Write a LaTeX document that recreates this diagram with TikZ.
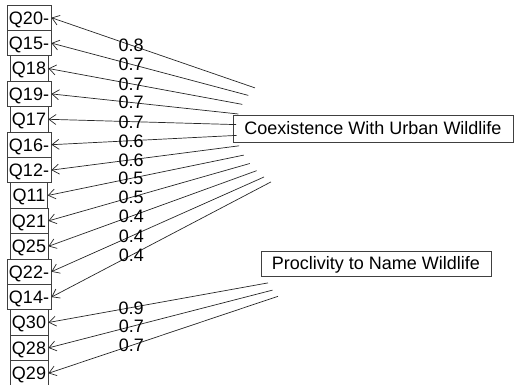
\documentclass[tikz,border=0pt]{standalone}
\usepackage{fontspec}
\setmainfont{Liberation Sans}
\usetikzlibrary{arrows.meta}
\begin{document}
\begin{tikzpicture}[x=1pt,y=-1pt,
  txt/.style={font=\fontsize{18}{20}\selectfont, text height=12.9pt, text depth=0pt},
  item/.style={txt, draw=black!75, line width=0.8pt, inner xsep=2pt, inner ysep=0pt, minimum height=25.4pt},
  factor/.style={txt, draw=black!75, line width=0.8pt, inner sep=0pt},
  load/.style={-{Straight Barb[length=7pt,width=10pt]}, line width=0.7pt, draw=black!85},
  lbl/.style={txt, inner sep=0pt}]
\useasboundingbox (0,0) rectangle (514,385);

% factors
\node[factor, minimum width=280pt, minimum height=27pt] (F1) at (373,128.5) {Coexistence With Urban Wildlife};
\node[factor, minimum width=230pt, minimum height=25pt] (F2) at (376,263.5) {Proclivity to Name Wildlife};

% items
\foreach \n/\t/\y in {Q20/Q20-/17.7, Q15/Q15-/43.1, Q18/Q18/68.5, Q19/Q19-/93.9,
  Q17/Q17/119.3, Q16/Q16-/144.7, Q12/Q12-/170.1, Q11/Q11/195.5, Q21/Q21/220.9,
  Q25/Q25/246.3, Q22/Q22-/271.7, Q14/Q14-/297.1, Q30/Q30/322.5, Q28/Q28/347.9, Q29/Q29/373.3}
  {\node[item] (\n) at (29,\y) {\t};}

% arrow start points on the factor ellipses
\coordinate (s20) at (255.0,87.9);
\coordinate (s15) at (248.3,95.4);
\coordinate (s18) at (242.4,104.4);
\coordinate (s19) at (238.3,114.0);
\coordinate (s17) at (236.2,124.6);
\coordinate (s16) at (236.5,135.4);
\coordinate (s12) at (239.2,145.8);
\coordinate (s11) at (243.8,155.1);
\coordinate (s21) at (249.8,163.5);
\coordinate (s25) at (256.6,170.7);
\coordinate (s22) at (264.0,177.0);
\coordinate (s14) at (271.0,181.9);
\coordinate (s30) at (268.0,282.9);
\coordinate (s28) at (272.6,290.1);
\coordinate (s29) at (278.0,296.3);

% loadings
\foreach \n/\p/\v in {20/.608/0.8, 15/.595/0.7, 18/.573/0.7, 19/.573/0.7, 17/.559/0.7,
  16/.569/0.6, 12/.575/0.6, 11/.576/0.5, 21/.589/0.5, 25/.602/0.4, 22/.624/0.4,
  14/.636/0.4, 30/.623/0.9, 28/.630/0.7, 29/.639/0.7}
  {\draw[load] (s\n) -- node[lbl, pos=\p] {\v} (Q\n.east);}
\end{tikzpicture}
\end{document}
